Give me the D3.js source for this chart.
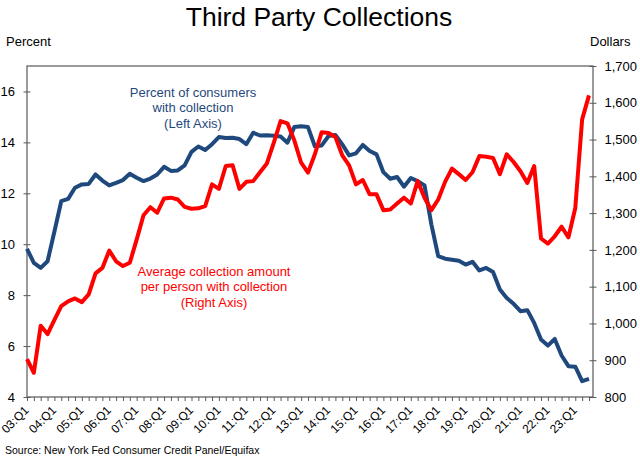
<!DOCTYPE html>
<html>
<head>
<meta charset="utf-8">
<script src="https://cdn.jsdelivr.net/npm/d3@7"></script>
<style>
  html, body { margin: 0; padding: 0; background: #fff; }
  svg { display: block; font-family: "Liberation Sans", Arial, sans-serif; }
</style>
</head>
<body>
<script>
// ---- Data ----
const firstYear = 2003;
const quarters = [];
for (let i = 0; i < 83; i++) {
  const y = firstYear + Math.floor(i / 4);
  quarters.push(String(y % 100).padStart(2, "0") + ":Q" + (i % 4 + 1));
}
const tickLabels = ["03:Q1","04:Q1","05:Q1","06:Q1","07:Q1","08:Q1","09:Q1","10:Q1","11:Q1","12:Q1",
  "13:Q1","14:Q1","15:Q1","16:Q1","17:Q1","18:Q1","19:Q1","20:Q1","21:Q1","22:Q1","23:Q1"];

// Percent of consumers with collection (left axis, %)
const pctWithCollection = [
  9.82, 9.27, 9.07, 9.33, 10.5, 11.69, 11.78, 12.22, 12.35, 12.37,
  12.74, 12.5, 12.31, 12.41, 12.52, 12.77, 12.61, 12.48, 12.58, 12.74,
  13.04, 12.88, 12.9, 13.1, 13.63, 13.84, 13.7, 13.93, 14.21, 14.17,
  14.18, 14.13, 13.93, 14.38, 14.27, 14.28, 14.26, 14.23, 13.99, 14.6,
  14.63, 14.6, 13.85, 13.88, 14.25, 14.29, 13.92, 13.49, 13.57, 13.9,
  13.66, 13.53, 12.83, 12.57, 12.64, 12.26, 12.6, 12.48, 12.31, 10.78,
  9.53, 9.43, 9.39, 9.35, 9.2, 9.31, 8.97, 9.07, 8.91, 8.22,
  7.89, 7.66, 7.37, 7.41, 6.91, 6.26, 6.02, 6.28, 5.63, 5.21,
  5.19, 4.62, 4.71
];

// Average collection amount per person with collection (right axis, $)
const avgCollectionAmount = [
  903, 866, 994, 971, 1010, 1047, 1060, 1068, 1058, 1079,
  1136, 1151, 1198, 1169, 1156, 1165, 1228, 1294, 1316, 1301,
  1340, 1342, 1337, 1317, 1312, 1313, 1319, 1378, 1366, 1428,
  1430, 1366, 1385, 1387, 1411, 1435, 1491, 1550, 1544, 1498,
  1437, 1410, 1460, 1520, 1518, 1507, 1457, 1430, 1378, 1390,
  1351, 1351, 1308, 1310, 1326, 1342, 1326, 1387, 1342, 1308,
  1337, 1385, 1421, 1406, 1390, 1411, 1455, 1453, 1450, 1406,
  1460, 1439, 1414, 1382, 1428, 1231, 1217, 1237, 1263, 1234,
  1314, 1555, 1620
];

const leftTicks = [4, 6, 8, 10, 12, 14, 16];
const rightTicks = [800, 900, 1000, 1100, 1200, 1300, 1400, 1500, 1600, 1700];

// ---- Layout ----
const W = 640, H = 460;
const plot = { left: 27, right: 593, top: 66, bottom: 397 };
const blue = "#1f497d", red = "#ff0000", axisColor = "#595959";

const svg = d3.select("body").append("svg").attr("width", W).attr("height", H);

const x = d3.scaleLinear().domain([0, quarters.length - 1]).range([plot.left, 589]);
const yL = d3.scaleLinear().domain([4, 17]).range([plot.bottom, plot.top]);
const yR = d3.scaleLinear().domain([800, 1700]).range([plot.bottom, plot.top]);

// Title
svg.append("text").attr("x", 319).attr("y", 26).attr("text-anchor", "middle")
  .style("font-size", "26.5px").attr("fill", "#000").text("Third Party Collections");
svg.append("text").attr("x", 6).attr("y", 46).style("font-size", "13px").text("Percent");
svg.append("text").attr("x", 590).attr("y", 46).style("font-size", "13px").text("Dollars");

// Frame
svg.append("rect").attr("x", plot.left).attr("y", plot.top)
  .attr("width", plot.right - plot.left).attr("height", plot.bottom - plot.top)
  .attr("fill", "none").attr("stroke", axisColor).attr("stroke-width", 1.2);

// Left axis
const gL = svg.append("g").attr("transform", `translate(${plot.left},0)`)
  .call(d3.axisLeft(yL).tickValues(leftTicks).tickSize(3.5).tickPadding(8.5).tickFormat(d3.format("d")));
gL.select(".domain").remove();
gL.selectAll(".tick line").attr("x1", 3.5).attr("stroke", axisColor);
gL.selectAll(".tick text").style("font-size", "13px").style("font-family", "Liberation Sans, Arial, sans-serif").attr("fill", "#000");

// Right axis
const gR = svg.append("g").attr("transform", `translate(${plot.right},0)`)
  .call(d3.axisRight(yR).tickValues(rightTicks).tickSize(3.5).tickPadding(8).tickFormat(d3.format(",")));
gR.select(".domain").remove();
gR.selectAll(".tick line").attr("x1", -3.5).attr("stroke", axisColor);
gR.selectAll(".tick text").style("font-size", "13px").style("font-family", "Liberation Sans, Arial, sans-serif").attr("fill", "#000");

// Bottom axis
const gB = svg.append("g").attr("transform", `translate(0,${plot.bottom})`)
  .call(d3.axisBottom(x).tickValues(d3.range(quarters.length)).tickSize(4)
    .tickFormat(i => (i % 4 === 0 ? tickLabels[i / 4] : "")));
gB.select(".domain").remove();
gB.selectAll(".tick line").attr("stroke", axisColor);
gB.selectAll(".tick text")
  .style("font-size", "12px").style("font-family", "Liberation Sans, Arial, sans-serif")
  .attr("fill", "#000")
  .attr("x", 0).attr("y", 0).attr("dy", 0)
  .attr("transform", "translate(2,14) rotate(-45)")
  .style("text-anchor", "end");

// Lines
const lineL = d3.line().x((d, i) => x(i)).y(d => yL(d));
const lineR = d3.line().x((d, i) => x(i)).y(d => yR(d));

svg.append("path").datum(pctWithCollection).attr("d", lineL)
  .attr("fill", "none").attr("stroke", blue).attr("stroke-width", 4).attr("stroke-linejoin", "round");
svg.append("path").datum(avgCollectionAmount).attr("d", lineR)
  .attr("fill", "none").attr("stroke", red).attr("stroke-width", 4).attr("stroke-linejoin", "round");

// Annotations
const blueNote = ["Percent of consumers", "with collection", "(Left Axis)"];
const redNote = ["Average collection amount", "per person with collection", "(Right Axis)"];
svg.append("text").attr("text-anchor", "middle").style("font-size", "13px").attr("fill", blue)
  .selectAll("tspan").data(blueNote).join("tspan")
  .attr("x", 193).attr("y", (d, i) => 96.5 + i * 15.7).text(d => d);
svg.append("text").attr("text-anchor", "middle").style("font-size", "13px").attr("fill", red)
  .selectAll("tspan").data(redNote).join("tspan")
  .attr("x", 214).attr("y", (d, i) => 275.5 + i * 15.7).text(d => d);

// Source
svg.append("text").attr("x", 5).attr("y", 454).style("font-size", "10.5px").attr("fill", "#000")
  .text("Source: New York Fed Consumer Credit Panel/Equifax");
</script>
</body>
</html>
